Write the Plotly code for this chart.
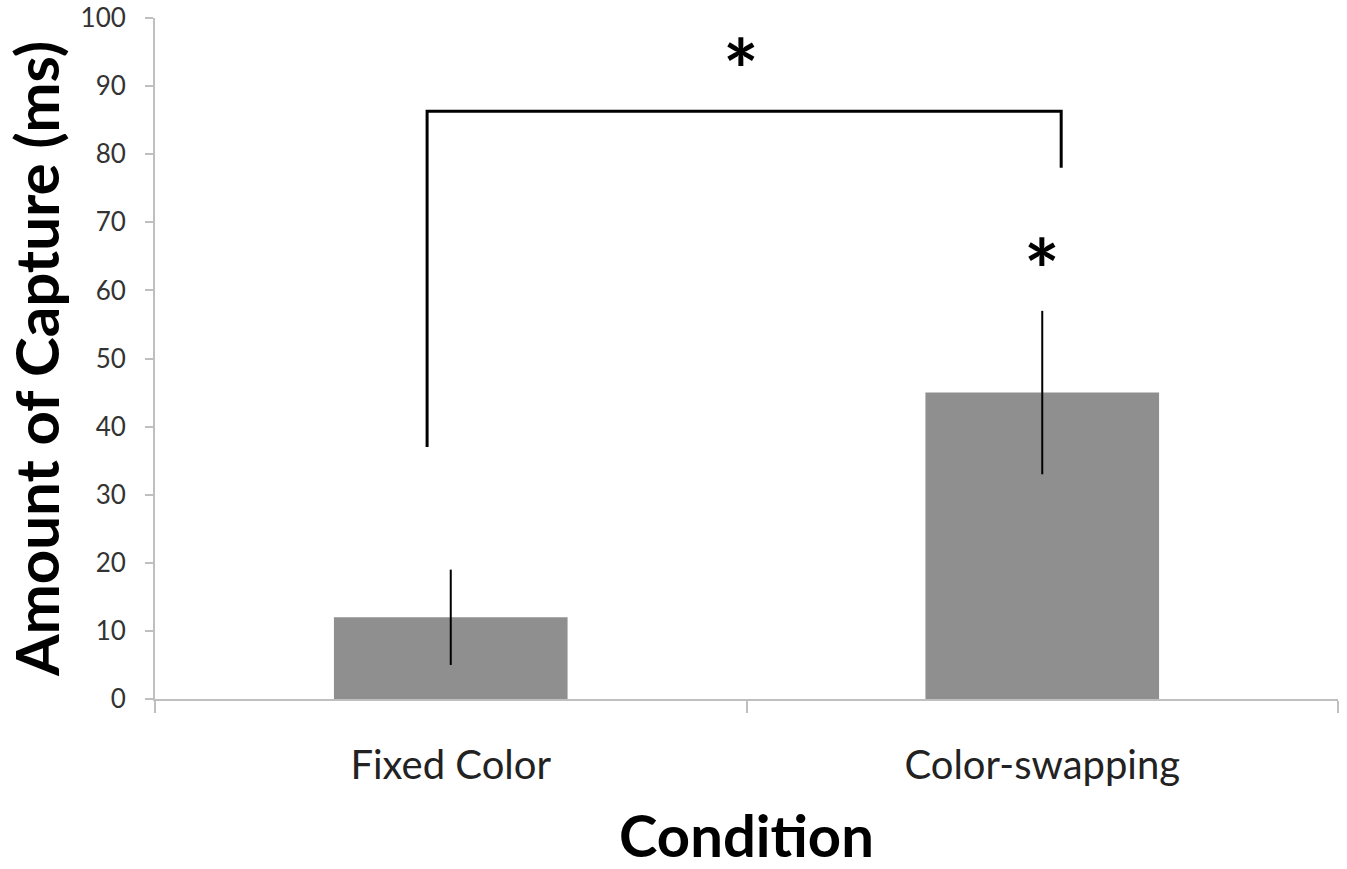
import plotly.graph_objects as go

categories = ["Fixed Color", "Color-swapping"]
capture_ms = [12, 45]
error_ms = [7, 12]
y_ticks = [0, 10, 20, 30, 40, 50, 60, 70, 80, 90, 100]

# significance bracket (values in ms; x in category index units)
bracket_x = [-0.04, -0.04, 1.032, 1.032]
bracket_y = [37, 86.3, 86.3, 78]
star_x = [0.49, 1.0]
star_y = [95, 65.5]

axis_grey = "#bfbfbf"
font_fam = "Lato, 'Open Sans', sans-serif"

fig = go.Figure()
fig.add_trace(go.Bar(
    x=categories, y=capture_ms,
    marker=dict(color="#8f8f8f", line=dict(width=0)),
    width=0.395,
    error_y=dict(type="data", array=error_ms, visible=True,
                 color="black", thickness=2, width=0),
    showlegend=False,
))

path = "M {} {} L {} {} L {} {} L {} {}".format(
    bracket_x[0], bracket_y[0], bracket_x[1], bracket_y[1],
    bracket_x[2], bracket_y[2], bracket_x[3], bracket_y[3])
fig.add_shape(type="path", path=path, xref="x", yref="y",
              line=dict(color="black", width=3))

for sx, sy in zip(star_x, star_y):
    fig.add_annotation(x=sx, y=sy, xref="x", yref="y", text="<b>*</b>",
                       showarrow=False, font=dict(size=84, color="black", family=font_fam),
                       yanchor="middle", xanchor="center", yshift=-16)

fig.update_layout(
    width=1347, height=869,
    margin=dict(l=155, r=9, t=18, b=170),
    paper_bgcolor="white", plot_bgcolor="white",
    font=dict(family=font_fam, color="#222"),
    bargap=0.6,
)
fig.update_xaxes(
    type="category", automargin=False,
    range=[-0.5, 1.5],
    showline=True, linecolor=axis_grey, linewidth=2,
    ticks="outside", tickson="boundaries", ticklen=12, tickcolor=axis_grey, tickwidth=2,
    tickfont=dict(size=40, color="#222", family=font_fam),
    ticklabelstandoff=30,
    title=dict(text="<b>Condition</b>", font=dict(size=58, color="black", family=font_fam), standoff=42),
    showgrid=False, zeroline=False,
)
fig.update_yaxes(
    range=[0, 100], tickvals=y_ticks, automargin=False,
    showline=True, linecolor=axis_grey, linewidth=2,
    ticks="outside", ticklen=8, tickcolor=axis_grey, tickwidth=2,
    tickfont=dict(size=26, color="#333", family=font_fam),
    ticklabelstandoff=14,
    title=dict(text="<b>Amount of Capture (ms)</b>", font=dict(size=60, color="black", family=font_fam), standoff=24),
    showgrid=False, zeroline=False,
)

fig.write_html("out.html", config={"displayModeBar": False},
               post_script="document.body.style.margin='0';document.body.style.overflow='hidden';")
